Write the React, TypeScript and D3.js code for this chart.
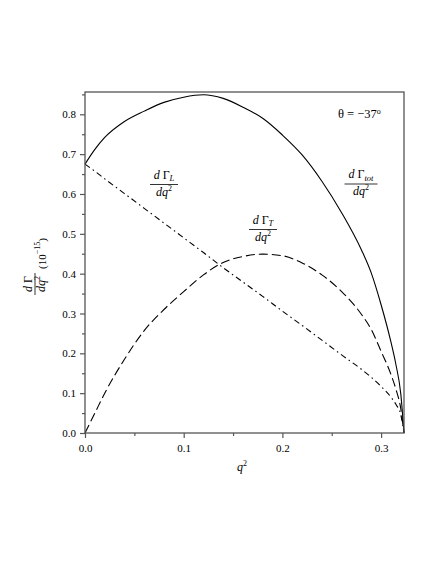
import React, { useEffect, useRef } from "react";
import * as d3 from "d3";

const settings = {
  width: 436,
  height: 564,
  margin: { top: 92, right: 32, bottom: 131, left: 85 },
};

// q^2 grid shared by the three curves
const q2: number[] = [
  0, 0.01, 0.02, 0.04, 0.06, 0.08, 0.1, 0.12, 0.14, 0.16, 0.18, 0.2, 0.22,
  0.24, 0.26, 0.28, 0.29, 0.3, 0.31, 0.315, 0.32, 0.3232,
];
const gammaTot: number[] = [
  0.675, 0.712, 0.742, 0.782, 0.808, 0.83, 0.843, 0.849, 0.84, 0.818, 0.79,
  0.748, 0.698, 0.632, 0.553, 0.46, 0.402, 0.322, 0.228, 0.172, 0.097, 0,
];
const gammaL: number[] = [
  0.675, 0.657, 0.638, 0.601, 0.564, 0.527, 0.49, 0.453, 0.415, 0.379, 0.343,
  0.306, 0.27, 0.233, 0.196, 0.16, 0.14, 0.117, 0.09, 0.072, 0.045, 0,
];
const gammaT: number[] = [
  0, 0.05, 0.1, 0.185, 0.257, 0.31, 0.355, 0.397, 0.428, 0.443, 0.449, 0.445,
  0.427, 0.397, 0.355, 0.298, 0.26, 0.205, 0.147, 0.11, 0.06, 0,
];

const xTicks = [0, 0.1, 0.2, 0.3];
const xMinor = [0.05, 0.15, 0.25];
const yTicks = [0, 0.1, 0.2, 0.3, 0.4, 0.5, 0.6, 0.7, 0.8];
const yMinor = [0.05, 0.15, 0.25, 0.35, 0.45, 0.55, 0.65, 0.75, 0.85];

const serif = "'Liberation Serif', 'Times New Roman', serif";

export default function App() {
  const svgRef = useRef(null);
  useEffect(() => {
    const svg = d3.select(svgRef.current);
    svg.selectAll("*").remove();
    const { width, height, margin } = settings;

    const x = d3
      .scaleLinear()
      .domain([0, 0.3232])
      .range([margin.left, width - margin.right]);
    const y = d3
      .scaleLinear()
      .domain([0, 0.856])
      .range([height - margin.bottom, margin.top]);

    const series = [
      { values: gammaTot, dash: null },
      { values: gammaT, dash: "9,4" },
      { values: gammaL, dash: "6,3.5,1.5,3.5" },
    ];
    const line = d3
      .line<[number, number]>()
      .x((d) => x(d[0]))
      .y((d) => y(d[1]))
      .curve(d3.curveMonotoneX);

    series.forEach((s) => {
      svg
        .append("path")
        .attr("d", line(q2.map((q, i) => [q, s.values[i]]) as [number, number][]))
        .attr("fill", "none")
        .attr("stroke", "#000")
        .attr("stroke-width", 1.1)
        .attr("stroke-dasharray", s.dash);
    });

    // frame
    svg
      .append("rect")
      .attr("x", x(0))
      .attr("y", y(0.856))
      .attr("width", x(0.3232) - x(0))
      .attr("height", y(0) - y(0.856))
      .attr("fill", "none")
      .attr("stroke", "#555")
      .attr("stroke-width", 1.3);

    const styleAxis = (g: any) => {
      g.attr("font-family", serif).attr("font-size", 11);
      g.select(".domain").remove();
      g.selectAll("line").attr("stroke", "#555").attr("stroke-width", 1.2);
      g.selectAll("text")
        .attr("font-family", serif)
        .attr("font-size", 11)
        .attr("fill", "#000");
    };

    svg
      .append("g")
      .attr("transform", `translate(0,${y(0)})`)
      .call(
        d3.axisBottom(x).tickValues(xTicks).tickFormat(d3.format(".1f")).tickSize(5).tickPadding(6)
      )
      .call(styleAxis);
    svg
      .append("g")
      .attr("transform", `translate(0,${y(0)})`)
      .call(d3.axisBottom(x).tickValues(xMinor).tickFormat(() => "").tickSize(3))
      .call(styleAxis);
    svg
      .append("g")
      .attr("transform", `translate(${x(0)},0)`)
      .call(
        d3.axisLeft(y).tickValues(yTicks).tickFormat(d3.format(".1f")).tickSize(5).tickPadding(4)
      )
      .call(styleAxis);
    svg
      .append("g")
      .attr("transform", `translate(${x(0)},0)`)
      .call(d3.axisLeft(y).tickValues(yMinor).tickFormat(() => "").tickSize(3))
      .call(styleAxis);
  }, []);

  const frac = (cx: number, barY: number, sub: string, w: number) => (
    <g fontFamily={serif} fontSize={12} textAnchor="middle">
      <text x={cx} y={barY - 6}>
        <tspan fontStyle="italic">d</tspan> Γ
        <tspan fontSize={8.5} fontStyle="italic" dy={2.5}>{sub}</tspan>
      </text>
      <line x1={cx - w / 2} x2={cx + w / 2} y1={barY} y2={barY} stroke="#000" strokeWidth={0.8} />
      <text x={cx} y={barY + 11}>
        <tspan fontStyle="italic">dq</tspan>
        <tspan fontSize={8} dy={-5}>2</tspan>
      </text>
    </g>
  );

  return (
    <svg
      style={{ position: "absolute", left: 0, top: 0, background: "#fff" }}
      width={settings.width}
      height={settings.height}
    >
      <g ref={svgRef}></g>
      {frac(164, 184.5, "L", 28)}
      {frac(263, 229.5, "T", 28)}
      {frac(361, 184, "tot", 33)}
      <text x={338} y={118} fontFamily={serif} fontSize={12.5}>
        θ = −37<tspan fontSize={8} dy={-4}>o</tspan>
      </text>
      <text x={242} y={471} fontFamily={serif} fontSize={12} textAnchor="middle">
        <tspan fontStyle="italic">q</tspan>
        <tspan fontSize={8} dy={-5}>2</tspan>
      </text>
      <g transform="translate(35,284) rotate(-90)" fontFamily={serif}>
        <text x={0} y={-3} fontSize={12} textAnchor="middle">
          <tspan fontStyle="italic">d</tspan> Γ
        </text>
        <line x1={-11} x2={11} y1={0} y2={0} stroke="#000" strokeWidth={0.8} />
        <text x={0} y={10} fontSize={12} textAnchor="middle">
          <tspan fontStyle="italic">dq</tspan>
          <tspan fontSize={8} dy={-5}>2</tspan>
        </text>
        <text x={15} y={11} fontSize={11}>
          (10<tspan fontSize={8} dy={-6}>−15</tspan>
          <tspan dy={6}>)</tspan>
        </text>
      </g>
    </svg>
  );
}
